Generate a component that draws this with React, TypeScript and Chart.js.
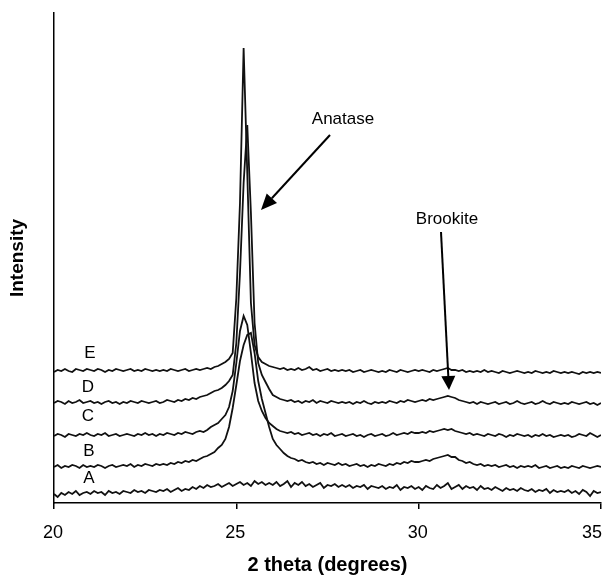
import React, { useEffect, useRef } from "react";
import { Chart, registerables } from "chart.js";

Chart.register(...registerables);

// Scan: 2 theta from 20.0 to 35.0 degrees, step 0.1
const scanStart = 20;
const scanStep = 0.1;
const xTicks = [20, 25, 30, 35];
const seriesLabels = ["A", "B", "C", "D", "E"];

// Intensities (arbitrary units, traces offset vertically as in the figure)
const seriesA = [
  9, 6, 10, 8, 11, 9, 12, 8, 10, 11,
  9, 12, 10, 11, 8, 12, 10, 11, 9, 12,
  11, 10, 13, 11, 12, 10, 13, 12, 11, 13,
  12, 14, 11, 13, 15, 12, 14, 13, 16, 14,
  17, 15, 18, 16, 17, 19, 16, 18, 20, 17,
  19, 21, 18, 20, 17, 22, 19, 21, 18, 20,
  18, 21, 17, 19, 22, 16, 20, 18, 21, 17,
  19, 16, 18, 20, 15, 18, 17, 19, 16, 18,
  16, 18, 15, 17, 16, 18, 14, 17, 16, 15,
  17, 14, 16, 15, 18, 13, 16, 15, 17, 14,
  16, 13, 17, 15, 14, 18, 15, 17, 20, 14,
  16, 18, 14, 17, 15, 16, 13, 17, 14, 15,
  13, 16, 14, 12, 15, 13, 14, 12, 15, 13,
  12, 14, 11, 13, 12, 14, 10, 13, 11, 12,
  11, 13, 10, 12, 9, 13, 11, 7, 12, 10,
  11,
];
const seriesB = [
  36, 38, 35, 37, 36, 38, 37, 35, 38, 36,
  37, 36, 38, 37, 35, 37, 38, 36, 37, 38,
  37, 39, 36, 38, 37, 39, 38, 37, 39, 38,
  39, 38, 40, 39, 41, 40, 42, 41, 43, 42,
  44, 46, 47, 49, 51, 55, 58, 64, 76, 95,
  118, 142, 158, 168, 170, 150, 122, 104, 90, 76,
  64, 58, 54, 50, 47, 45, 44, 42, 43, 41,
  40, 41, 39, 40, 38, 40, 39, 38, 40, 38,
  39, 37, 38, 39, 37, 38, 36, 38, 37, 39,
  38, 37, 39, 38, 40, 39, 41, 40, 42, 41,
  41, 42, 43, 42, 44, 45, 46, 47, 48, 46,
  46, 43, 42, 40, 41, 39, 38, 39, 37, 38,
  37, 38, 36, 37, 38, 36, 37, 35, 37, 36,
  37, 36, 38, 35, 36, 37, 35, 36, 37, 35,
  36, 35, 37, 36, 35, 37, 36, 35, 36, 37,
  36,
];
const seriesC = [
  67, 69, 68, 66, 69, 68, 67, 69, 68, 70,
  68, 67, 69, 68, 70, 67, 68, 69, 67, 68,
  69, 68, 67, 69, 68, 70, 68, 69, 67, 69,
  68, 70, 69, 68, 70, 69, 71, 70, 69, 71,
  72, 71, 73, 76, 78, 80, 84, 88, 96, 112,
  140, 172, 187, 178, 150, 120, 102, 92, 85, 80,
  77, 74, 72, 71, 70, 71, 69, 70, 68, 69,
  70, 68, 69, 67, 69, 68, 70, 67, 68, 69,
  67, 68, 69, 67, 68, 66, 68, 69, 67, 68,
  69, 67, 68, 70, 68, 69, 70, 69, 71, 70,
  70, 71, 70, 72, 71, 72, 73, 74, 73, 74,
  72, 71, 70, 69, 70, 68, 69, 68, 67, 69,
  68, 67, 69, 68, 66, 68, 67, 69, 68, 67,
  68, 66, 68, 67, 69, 67, 68, 66, 67, 68,
  67, 68, 66, 67, 69, 68, 67, 70, 68, 66,
  68,
];
const seriesD = [
  100, 102, 101, 99, 102, 100, 101, 103, 100, 101,
  102, 100, 101, 99, 101, 102, 100, 101, 99, 101,
  100, 102, 101, 100, 102, 101, 100, 101, 102, 100,
  101, 103, 102, 101, 103, 102, 104, 103, 105, 104,
  106, 107, 108, 110, 112, 113, 115, 118, 122, 128,
  160, 230, 320, 378, 290, 180, 140, 128, 121, 114,
  108, 106, 104, 103, 102, 103, 101, 102, 100, 102,
  101, 103, 100, 102, 101, 100, 102, 101, 100, 101,
  100, 101, 99, 101, 100, 102, 100, 99, 101, 100,
  101, 100, 102, 101, 100, 102, 101, 103, 102, 101,
  102, 103, 102, 104, 103, 104, 105, 106, 107, 106,
  105, 103, 102, 101, 100, 101, 99, 101, 100, 99,
  100, 101, 99, 100, 101, 99, 100, 102, 100, 99,
  100, 101, 99, 100, 102, 100, 99, 101, 100, 99,
  100, 99, 101, 100, 99, 100, 101, 99, 100, 98,
  100,
];
const seriesE = [
  131, 133, 132, 134, 132, 131, 134, 133, 132, 134,
  133, 132, 134, 133, 131, 133, 132, 134, 133, 132,
  133, 134, 132, 133, 132, 134, 133, 132, 133, 132,
  133, 132, 134, 133, 132, 133, 134, 132, 133, 134,
  133, 134, 135, 134, 136, 137, 139, 141, 144, 150,
  205, 300, 455, 330, 200, 158, 146, 141, 139, 137,
  136, 135, 134, 135, 133, 134, 133, 135, 133, 134,
  136, 133, 134, 132, 133, 134, 132, 133, 132, 133,
  132, 133, 131, 132, 133, 131, 132, 133, 132, 131,
  132, 131, 133, 132, 131, 133, 132, 131, 132, 133,
  132, 133, 132, 131, 133, 132, 133, 134, 135, 133,
  133, 132, 133, 131, 132, 131, 132, 131, 133, 131,
  132, 131, 130, 132, 131, 130, 131, 132, 131, 130,
  131, 130, 132, 131, 130, 131, 130, 132, 131, 130,
  131, 130, 131, 130, 129, 131, 130, 131, 130, 131,
  130,
];

const allSeries = [seriesA, seriesB, seriesC, seriesD, seriesE];
const FONT = "'Liberation Sans', Arial, Helvetica, sans-serif";

function toPoints(values: number[]) {
  return values.map((v, i) => ({ x: +(scanStart + i * scanStep).toFixed(2), y: v }));
}

const annotationPlugin = {
  id: "xrdAnnotations",
  afterDraw(chart: any) {
    const { ctx } = chart;
    const xs = chart.scales.x;
    ctx.save();
    ctx.fillStyle = "#000";
    ctx.strokeStyle = "#000";
    ctx.textBaseline = "middle";

    // x tick labels (last one kept inside the canvas, as in the figure)
    ctx.font = `18px ${FONT}`;
    xTicks.forEach((t, i) => {
      const px = xs.getPixelForValue(t);
      if (i === xTicks.length - 1) {
        ctx.textAlign = "right";
        ctx.fillText(String(t), px + 1, 533);
      } else {
        ctx.textAlign = "center";
        ctx.fillText(String(t), px - 1, 533);
      }
    });

    // trace labels
    ctx.font = `17px ${FONT}`;
    ctx.textAlign = "center";
    const labelPos: Record<string, [number, number]> = {
      E: [90, 353],
      D: [88, 387],
      C: [88, 416],
      B: [89, 451],
      A: [89, 478],
    };
    seriesLabels.forEach((l) => {
      const [lx, ly] = labelPos[l];
      ctx.fillText(l, lx, ly);
    });
    ctx.fillText("Anatase", 343, 119);
    ctx.fillText("Brookite", 447, 219);

    const arrow = (x1: number, y1: number, x2: number, y2: number, len: number, half: number) => {
      const ang = Math.atan2(y2 - y1, x2 - x1);
      const bx = x2 - len * Math.cos(ang);
      const by = y2 - len * Math.sin(ang);
      ctx.lineWidth = 2;
      ctx.beginPath();
      ctx.moveTo(x1, y1);
      ctx.lineTo(bx, by);
      ctx.stroke();
      ctx.beginPath();
      ctx.moveTo(x2, y2);
      ctx.lineTo(bx + half * Math.sin(ang), by - half * Math.cos(ang));
      ctx.lineTo(bx - half * Math.sin(ang), by + half * Math.cos(ang));
      ctx.closePath();
      ctx.fill();
    };
    arrow(330, 135, 261, 210, 16, 7);
    arrow(441, 232, 449, 390, 14, 7);
    ctx.restore();
  },
};

export default function App() {
  const canvasRef = useRef<HTMLCanvasElement | null>(null);

  useEffect(() => {
    if (!canvasRef.current) return;
    Chart.defaults.font.family = FONT;
    const chart = new Chart(canvasRef.current, {
      type: "line",
      data: {
        datasets: allSeries.map((s, i) => ({
          label: seriesLabels[i],
          data: toPoints(s),
          borderColor: "#111",
          borderWidth: 1.8,
          pointRadius: 0,
          tension: 0,
          fill: false,
        })),
      },
      options: {
        animation: false,
        responsive: true,
        maintainAspectRatio: false,
        layout: { padding: { top: 13, right: 12, left: 0, bottom: 0 } },
        plugins: { legend: { display: false }, tooltip: { enabled: false } },
        scales: {
          x: {
            type: "linear",
            min: 20,
            max: 35,
            afterBuildTicks: (scale: any) => {
              scale.ticks = xTicks.map((v) => ({ value: v }));
            },
            afterFit: (scale: any) => {
              scale.height = 74;
            },
            ticks: { display: false },
            grid: { drawOnChartArea: false, drawTicks: true, tickLength: 6, color: "#000", lineWidth: 1.5 },
            border: { color: "#000", width: 1.5 },
            title: {
              display: true,
              text: "2 theta (degrees)",
              color: "#000",
              font: { size: 20, weight: "bold" },
              padding: { top: 0, bottom: 0 },
            },
          },
          y: {
            min: 0,
            max: 490,
            afterFit: (scale: any) => {
              scale.width = 54;
            },
            ticks: { display: false },
            grid: { display: false, drawTicks: false },
            border: { display: true, color: "#000", width: 1.5 },
            title: {
              display: true,
              text: "Intensity",
              color: "#000",
              font: { size: 19, weight: "bold" },
              padding: { top: 6, bottom: 0 },
            },
          },
        },
      },
      plugins: [annotationPlugin],
    } as any);
    return () => chart.destroy();
  }, []);

  return (
    <div style={{ position: "fixed", left: 0, top: 0, width: 613, height: 577, background: "#fff" }}>
      <canvas ref={canvasRef} />
    </div>
  );
}
